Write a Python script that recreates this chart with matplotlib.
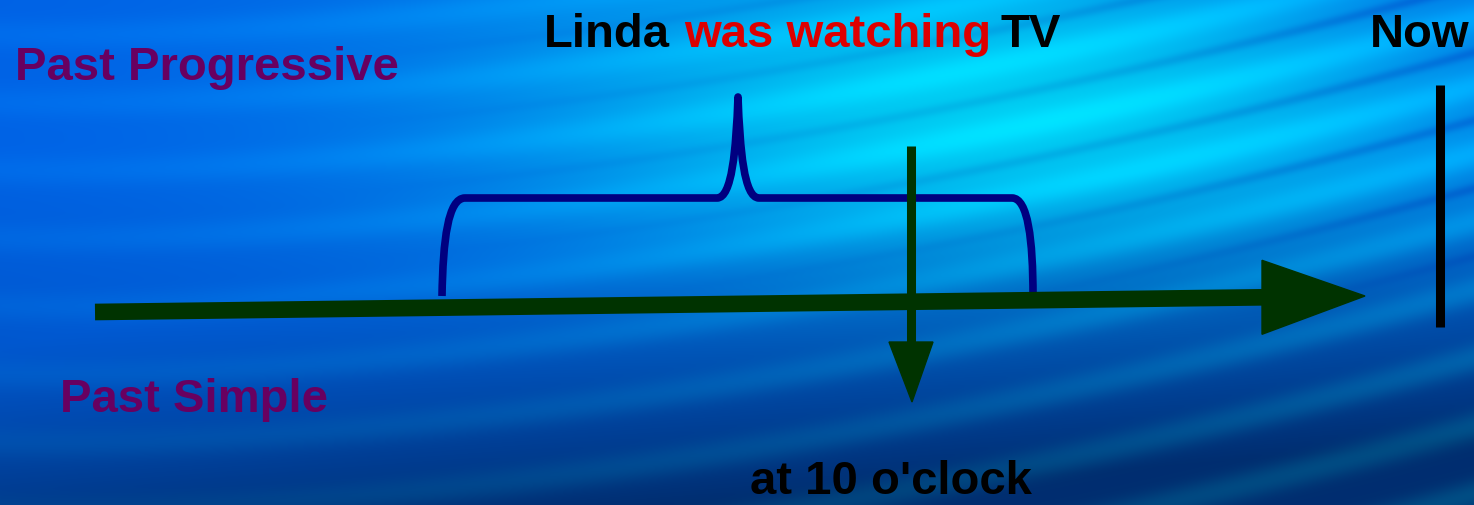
import numpy as np
import matplotlib.pyplot as plt
from matplotlib.path import Path
from matplotlib.patches import PathPatch, Polygon

W, H = 1474, 505

# timeline (pixel coords, y down)
timeline_start = (95, 312)
timeline_end = (1365, 296)
head_base_x = 1262
head_half = 37

# "at 10 o'clock" marker
marker_x = 911
marker_top = 146
marker_tip = 402
marker_head_y = 342
marker_half = 22

# "Now" bar
now_x = 1440
now_y = (85, 327)

# brace over the progressive action
brace_left, brace_right = 442, 1033
brace_bottom, brace_level, brace_peak_x, brace_peak_y = 296, 198, 738, 97

labels = ["Past Progressive", "Past Simple", "Now", "at 10 o'clock"]
label_xy = [(15, 80), (60, 412), (1370, 47), (750, 494)]
label_colors = ["#680060", "#680060", "black", "black"]

sentence = ["Linda", "was watching", "TV"]
sentence_x = [544, 684, 1001]
sentence_colors = ["black", "#dd0000", "black"]

GREEN = "#003300"
NAVY = "#000080"

plt.rcParams['font.family'] = ['Liberation Sans', 'DejaVu Sans']

fig = plt.figure(figsize=(W / 100, H / 100), dpi=100)
ax = fig.add_axes([0, 0, 1, 1])
ax.set_xlim(0, W)
ax.set_ylim(H, 0)
ax.axis('off')

# background: blue gradient with soft curved light streaks
yy, xx = np.mgrid[0:H, 0:W].astype(float)
xn = xx / W
base = np.array([0.0, 0.38, 0.90])
cyan = np.array([0.0, 0.80, 0.95])
dark = np.array([0.0, 0.18, 0.44])
wc = np.exp(-((xx - 1000) / 520) ** 2 - ((yy - 110) / 190) ** 2)
wd = np.clip((yy - 260 + 120 * xn) / 300, 0, 1) ** 1.3
wd = np.maximum(wd, 0.35 * np.clip((yy - 150) / 350, 0, 1) * (1 - xn))
phase = (yy + 260 * xn ** 1.7 - 40 * xn) / 68.0
streak = np.sin(np.pi * phase) ** 4
light = 0.22 * streak * (0.3 + 0.7 * xn)
img = base[None, None, :] * (1 - wc[..., None]) + cyan[None, None, :] * wc[..., None]
img = img * (1 - wd[..., None]) + dark[None, None, :] * wd[..., None]
img = img + light[..., None] * np.array([0.0, 0.55, 0.35])[None, None, :]
# thin darker lines between the streaks, only in the bright upper right
dline = np.cos(np.pi * phase) ** 30 * np.clip(xn * 1.4 - 0.3, 0, 1) * np.clip((320 - yy) / 150, 0, 1)
img = img - 0.12 * dline[..., None] * np.array([0.3, 1.0, 0.5])[None, None, :]
img = np.clip(img, 0, 1)
ax.imshow(img, extent=(0, W, H, 0), aspect='auto', zorder=0)

# brace
verts = [
    (brace_left, brace_bottom),
    (brace_left + 1, brace_level + 42), (brace_left + 6, brace_level), (brace_left + 23, brace_level),
    (brace_peak_x - 21, brace_level),
    (brace_peak_x - 6, brace_level), (brace_peak_x - 2, brace_level - 48), (brace_peak_x, brace_peak_y),
    (brace_peak_x + 2, brace_level - 48), (brace_peak_x + 6, brace_level), (brace_peak_x + 21, brace_level),
    (brace_right - 21, brace_level),
    (brace_right - 5, brace_level), (brace_right, brace_level + 42), (brace_right, brace_bottom),
]
codes = [Path.MOVETO, Path.CURVE4, Path.CURVE4, Path.CURVE4, Path.LINETO,
         Path.CURVE4, Path.CURVE4, Path.CURVE4, Path.CURVE4, Path.CURVE4, Path.CURVE4,
         Path.LINETO, Path.CURVE4, Path.CURVE4, Path.CURVE4]
ax.add_patch(PathPatch(Path(verts, codes), fill=False, edgecolor=NAVY, lw=5.5,
                       capstyle='butt', joinstyle='round', zorder=2))

# main timeline with arrow head
x0, y0 = timeline_start
x1, y1 = timeline_end
slope = (y1 - y0) / (x1 - x0)
yb = y0 + slope * (head_base_x - x0)
ax.plot([x0, head_base_x + 2], [y0, yb], color=GREEN, lw=12, solid_capstyle='butt', zorder=3)
ax.add_patch(Polygon([(head_base_x, yb - head_half), (head_base_x, yb + head_half), (x1, y1)],
                     closed=True, color=GREEN, zorder=3))

# marker arrow
ax.plot([marker_x, marker_x], [marker_top, marker_head_y + 2], color=GREEN, lw=6.5,
        solid_capstyle='butt', zorder=4)
ax.add_patch(Polygon([(marker_x - marker_half, marker_head_y), (marker_x + marker_half, marker_head_y),
                      (marker_x + 1, marker_tip)], closed=True, color=GREEN, zorder=4))

# now bar
ax.plot([now_x, now_x], now_y, color='black', lw=6.5, solid_capstyle='butt', zorder=4)

for txt, (tx, ty), c in zip(labels, label_xy, label_colors):
    ax.text(tx, ty, txt, color=c, fontsize=34, fontweight='bold', ha='left', va='baseline', zorder=5)

for txt, tx, c in zip(sentence, sentence_x, sentence_colors):
    ax.text(tx, 47, txt, color=c, fontsize=34, fontweight='bold', ha='left', va='baseline', zorder=5)

fig.savefig("out.png", dpi=100)
